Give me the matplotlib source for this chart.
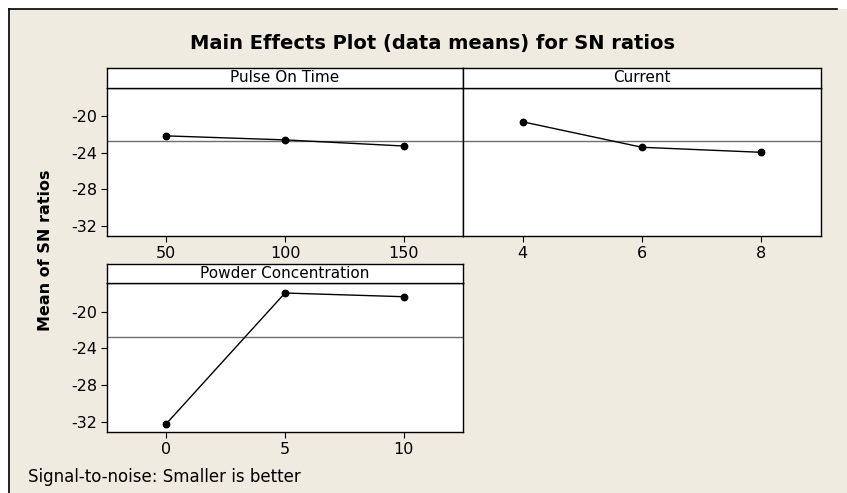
import matplotlib
matplotlib.use("Agg")
import matplotlib.pyplot as plt
from matplotlib.lines import Line2D
from matplotlib.patches import Rectangle
import numpy as np

plt.rcParams["axes.unicode_minus"] = False

title = "Main Effects Plot (data means) for SN ratios"
ylabel = "Mean of SN ratios"
footer = "Signal-to-noise: Smaller is better"

factors = ["Pulse On Time", "Current", "Powder Concentration"]
pulse_levels = [50, 100, 150]
pulse_means = [-22.14, -22.58, -23.25]
current_levels = [4, 6, 8]
current_means = [-20.60, -23.39, -23.94]
powder_levels = [0, 5, 10]
powder_means = [-32.20, -17.99, -18.39]
y_ticks = [-20, -24, -28, -32]

levels = [pulse_levels, current_levels, powder_levels]
means = [pulse_means, current_means, powder_means]
grand_mean = np.mean(pulse_means + current_means + powder_means)

W, H = 847, 493
BG = "#EFEBE1"
fig = plt.figure(figsize=(W / 100, H / 100), dpi=100)
fig.patch.set_facecolor("white")

# outer frame
fig.patches.append(Rectangle((8.5 / W, 0), 1, 1 - 9.3 / H, transform=fig.transFigure,
                             facecolor=BG, edgecolor="none", zorder=-10))
fig.lines.append(Line2D([8.5 / W, 8.5 / W], [0, 1 - 9.3 / H], transform=fig.transFigure,
                        color="black", lw=1.2, zorder=-5))
fig.lines.append(Line2D([8.5 / W, 837 / W], [1 - 9.3 / H, 1 - 9.3 / H], transform=fig.transFigure,
                        color="black", lw=1.2, zorder=-5))


def rect(x0, y0, x1, y1):
    return [x0 / W, 1 - y1 / H, (x1 - x0) / W, (y1 - y0) / H]


panels = [
    (107, 68, 463, 88, 236, True),
    (463, 68, 821, 88, 236, False),
    (107, 264, 463, 283, 432, True),
]

ylim = (-33.1, -16.9)
for i, (x0, ys, x1, yp, yb, showy) in enumerate(panels):
    ax = fig.add_axes(rect(x0, yp, x1, yb))
    ax.set_facecolor("white")
    lv = levels[i]
    step = lv[1] - lv[0]
    ax.axhline(grand_mean, color="#6e6e6e", lw=1.0, zorder=1)
    ax.plot(lv, means[i], color="black", lw=1.0, marker="o", ms=4.6, zorder=3)
    ax.set_xlim(lv[0] - step / 2, lv[-1] + step / 2)
    ax.set_ylim(*ylim)
    ax.set_xticks(lv)
    ax.set_yticks(y_ticks)
    ax.tick_params(direction="out", length=4, width=0.8, labelsize=11.5, pad=3, colors="black")
    if not showy:
        ax.tick_params(axis="y", left=False, labelleft=False)
    for s in ax.spines.values():
        s.set_color("black")
        s.set_linewidth(1.0)
    # strip
    sx = fig.add_axes(rect(x0, ys, x1, yp))
    sx.set_facecolor("white")
    sx.set_xticks([])
    sx.set_yticks([])
    for s in sx.spines.values():
        s.set_color("black")
        s.set_linewidth(1.0)
    sx.text(0.5, 0.5, factors[i], ha="center", va="center", fontsize=11,
            transform=sx.transAxes)

fig.text(0.5 * (189 + 675) / W, 1 - 44 / H, title, ha="center", va="center",
         fontsize=14, fontweight="bold")
fig.text(45 / W, 1 - 250 / H, ylabel, ha="center", va="center", rotation=90,
         fontsize=11.5, fontweight="bold")
fig.text(28 / W, 1 - 477 / H, footer, ha="left", va="center", fontsize=12)

fig.savefig("out.png", dpi=100, facecolor=fig.get_facecolor())
